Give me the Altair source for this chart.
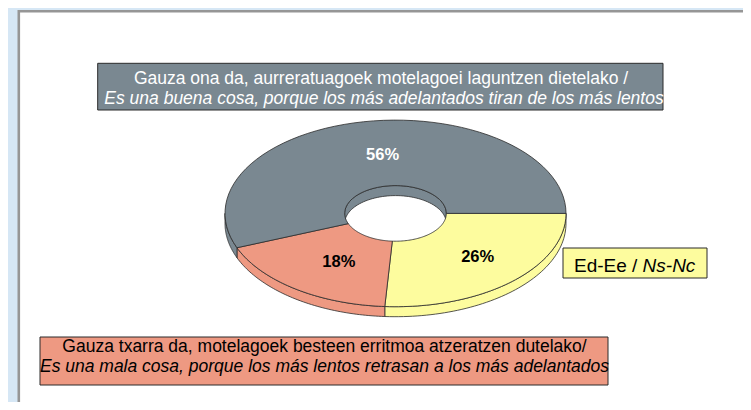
import altair as alt
import pandas as pd

# ---- data ----
slice_names = ["Ed-Ee / Ns-Nc",
               "Gauza txarra da, motelagoek besteen erritmoa atzeratzen dutelako/",
               "Gauza ona da, aurreratuagoek motelagoei laguntzen dietelako /"]
slice_values = [26, 18, 56]
slice_labels = ["26%", "18%", "56%"]
slice_fills = ["#fdfc9e", "#ee9982", "#7a8891"]
label_colors = ["black", "black", "white"]

good_lines = ["Gauza ona da, aurreratuagoek motelagoei laguntzen dietelako /",
              "Es una buena cosa, porque los más adelantados tiran de los más lentos"]
bad_lines = ["Gauza txarra da, motelagoek besteen erritmoa atzeratzen dutelako/",
             "Es una mala cosa, porque los más lentos retrasan a los más adelantados"]
legend_parts = ["Ed-Ee /", "Ns-Nc"]

df = pd.DataFrame({"name": slice_names, "value": slice_values, "pct": slice_labels,
                   "fill": slice_fills, "lc": label_colors, "k": list(range(len(slice_values)))})

# ---- geometry (layout) ----
CX, CY, RX, RY = 395.5, 213.4, 170.5, 93.3
RI = 0.298          # inner radius fraction
DEPTH = 10          # 3-D thickness
N = 60
LR = 0.64           # label radius fraction
PI = 3.141592653589793

xs = alt.Scale(domain=[8, 743], nice=False, zero=False)
ys = alt.Scale(domain=[402, 8], nice=False, zero=False)
FONT = "Liberation Sans"
EDGE = "#2b2b2b"


def base():
    return (alt.Chart(df)
            .transform_joinaggregate(total="sum(value)")
            .transform_window(cum="sum(value)", sort=[alt.SortField("k")], frame=[None, 0])
            .transform_calculate(a1="2*PI*datum.cum/datum.total",
                                 a0="2*PI*(datum.cum-datum.value)/datum.total"))


def piece(rA, dA, rB, dB, lo, hi):
    return (base()
            .transform_calculate(b0=f"max(datum.a0, {lo})", b1=f"min(datum.a1, {hi})")
            .transform_filter("datum.b1 > datum.b0 + 1e-9")
            .transform_calculate(idx=f"sequence(0, {2 * N + 3})")
            .transform_flatten(["idx"])
            .transform_calculate(
                t=(f"datum.idx <= {N} ? datum.b0 + (datum.b1-datum.b0)*datum.idx/{N} : "
                   f"(datum.idx <= {2 * N + 1} ? datum.b1 - (datum.b1-datum.b0)*(datum.idx-{N + 1})/{N} : datum.b0)"),
                r=f"(datum.idx <= {N} || datum.idx == {2 * N + 2}) ? {rA} : {rB}",
                d=f"(datum.idx <= {N} || datum.idx == {2 * N + 2}) ? {dA} : {dB}")
            .transform_calculate(px=f"{CX} + {RX}*datum.r*cos(datum.t)",
                                 py=f"{CY} + {RY}*datum.r*sin(datum.t) + datum.d")
            .mark_line(stroke=EDGE, strokeWidth=0.8, interpolate="linear")
            .encode(x=alt.X("px:Q", scale=xs, axis=None),
                    y=alt.Y("py:Q", scale=ys, axis=None),
                    fill=alt.Fill("fill:N", scale=None, legend=None),
                    detail="name:N",
                    order="idx:Q"))


outer_wall = piece(1, 0, 1, DEPTH, 0, PI)
inner_wall = piece(RI, 0, RI, DEPTH, PI, 2 * PI)
top = piece(1, 0, RI, 0, 0, 2 * PI)

slice_text = (base()
              .transform_calculate(m="(datum.a0+datum.a1)/2")
              .transform_calculate(lx=f"{CX}+{RX}*{LR}*cos(datum.m)",
                                   ly=f"{CY}+{RY}*{LR}*sin(datum.m)")
              .mark_text(font=FONT, fontSize=16.5, fontWeight="bold", baseline="middle", dx=7.5)
              .encode(x=alt.X("lx:Q", scale=xs, axis=None),
                      y=alt.Y("ly:Q", scale=ys, axis=None),
                      text="pct:N",
                      color=alt.Color("lc:N", scale=None, legend=None)))

one = pd.DataFrame({"a": [0]})


def box(x1, y1, x2, y2, fill, stroke=EDGE, sw=1):
    return alt.Chart(one).mark_rect(fill=fill, stroke=stroke, strokeWidth=sw).encode(
        x=alt.value(x1), x2=alt.value(x2), y=alt.value(y1), y2=alt.value(y2))


def txt(s, x, y, size=17.5, style="normal", color="black", align="center"):
    return alt.Chart(pd.DataFrame({"t": [s]})).mark_text(
        font=FONT, fontSize=size, fontStyle=style, color=color, align=align,
        baseline="alphabetic").encode(x=alt.value(x), y=alt.value(y), text="t:N")


panel = box(11, 4, 735, 394, "white", stroke="white", sw=0)
border_top = alt.Chart(one).mark_rule(color="#969696", strokeWidth=2.6).encode(
    x=alt.value(10), x2=alt.value(735), y=alt.value(3.3))
border_left = alt.Chart(one).mark_rule(color="#969696", strokeWidth=2.6).encode(
    x=alt.value(10.8), y=alt.value(2), y2=alt.value(394))

good_box = box(89.7, 55.3, 655, 102, slice_fills[2])
good_t1 = txt(good_lines[0], 373, 76, color="white")
good_t2 = txt(good_lines[1], 376, 96, style="italic", color="white")

bad_box = box(32, 329, 600, 377, slice_fills[1])
bad_t1 = txt(bad_lines[0], 316.5, 344)
bad_t2 = txt(bad_lines[1], 316.5, 364, style="italic")

leg_box = box(555, 240, 699, 270, slice_fills[0])
leg_t1 = txt(legend_parts[0], 629.4, 264, size=19, align="right")
leg_t2 = txt(legend_parts[1], 634.6, 264, size=19, style="italic", align="left")

chart = alt.layer(
    panel, border_top, border_left,
    outer_wall, inner_wall, top, slice_text,
    good_box, good_t1, good_t2,
    bad_box, bad_t1, bad_t2,
    leg_box, leg_t1, leg_t2,
).properties(width=735, height=394, background="#d6e7f5", padding=0,
             autosize="none").configure_view(stroke=None)

chart.save("out.html", embed_options={"renderer": "svg", "actions": False})
